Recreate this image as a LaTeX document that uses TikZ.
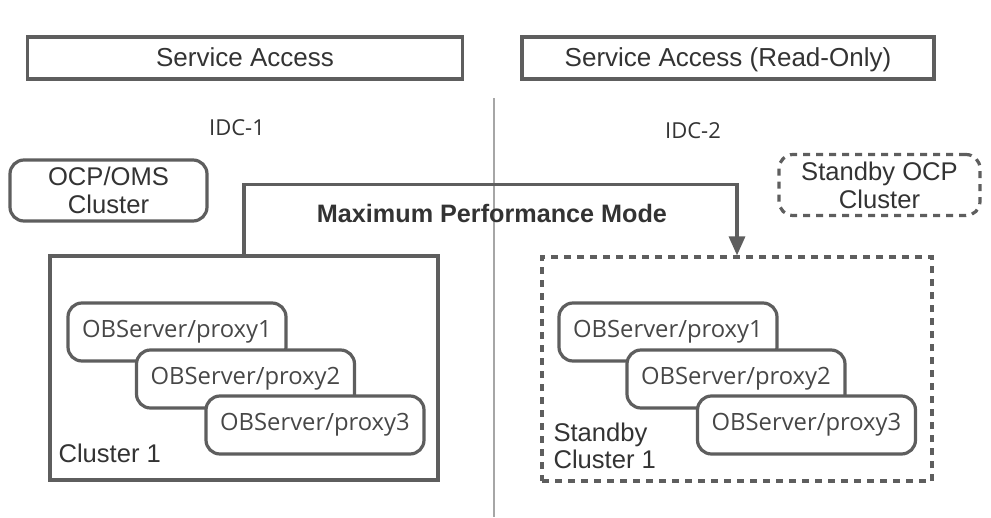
\documentclass[tikz,border=0pt]{standalone}
\usepackage{fontspec}
\setmainfont{Liberation Sans}
\newfontfamily\segoe{Open Sans}
\usetikzlibrary{arrows.meta}
\definecolor{linegray}{HTML}{5E5E5E}
\definecolor{txtgray}{HTML}{333333}
\tikzstyle{access} = [rectangle, minimum width=435pt, minimum height=42pt, text height=20pt, text depth=4pt, text centered, draw=linegray, line width=3.2pt, font=\fontsize{26}{28}\selectfont, text=txtgray]
\tikzstyle{ocp} = [rectangle, rounded corners=14pt, minimum height=61pt, align=center, draw=linegray, line width=3.2pt, font=\fontsize{25.6}{28}\selectfont, text=txtgray]
\tikzstyle{cluster} = [rectangle, minimum width=388pt, minimum height=224pt, draw=linegray, line width=3.2pt]
\tikzstyle{proxy} = [rectangle, rounded corners=14pt, minimum width=218pt, minimum height=58pt, text centered, draw=linegray, line width=3.2pt, fill=white, font=\segoe\fontsize{23.8}{26}\selectfont, text=txtgray!90]
\tikzstyle{dashedline} = [dash pattern=on 7pt off 6pt]
\tikzstyle{arrow} = [line width=3.2pt, draw=linegray, -{Triangle[width=16pt,length=19pt]}]

\begin{document}
\begin{tikzpicture}[x=1pt, y=-1pt]
        \useasboundingbox (0,0) rectangle (991,517);

        % Acessos de serviço no topo
        \node (acc1) [access] at (245,58) {Service Access};
        \node (acc2) [access, minimum width=412pt] at (728,58) {Service Access (Read-Only)};

        % Divisão entre os IDCs
        \coordinate (divtop) at (494,98);
        \coordinate (divbot) at (494,517);
        \draw [gray!70, line width=1.5pt] (divtop) -- (divbot);
        \node (idc1) [font=\segoe\fontsize{22}{24}\selectfont, text=txtgray] at (237,128) {IDC-1};
        \node (idc2) [font=\segoe\fontsize{22}{24}\selectfont, text=txtgray] at (693,131) {IDC-2};

        % Clusters OCP
        \node (ocp1) [ocp, minimum width=197pt] at (108.5,190.5) {OCP/OMS\\Cluster};
        \node (ocp2) [ocp, dashedline, minimum width=201pt] at (879.5,185) {Standby OCP\\Cluster};

        % Cluster principal
        \node (cl1) [cluster] at (244,368) {};
        \node (p11) [proxy] at (177,332) {OBServer/proxy1};
        \node (p12) [proxy] at (245.5,379) {OBServer/proxy2};
        \node (p13) [proxy] at (315,425) {OBServer/proxy3};
        \node (cl1txt) [anchor=west, font=\fontsize{25.6}{28}\selectfont, text=txtgray] at (55,453) {Cluster 1};

        % Cluster standby
        \node (sb1) [cluster, dashedline, minimum width=390pt] at (737,369) {};
        \node (p21) [proxy] at (668,332) {OBServer/proxy1};
        \node (p22) [proxy] at (736,379) {OBServer/proxy2};
        \node (p23) [proxy] at (806.5,425) {OBServer/proxy3};
        \node (sb1txt) [anchor=west, align=left, font=\fontsize{25.6}{27}\selectfont, text=txtgray] at (550,446) {Standby\\Cluster 1};

        % Replicação
        \draw [arrow] (cl1.north) -- ++(0,-70) -| (sb1.north);
        \node (mode) [font=\bfseries\fontsize{25.2}{28}\selectfont, text=txtgray] at (492,213) {Maximum Performance Mode};

    \end{tikzpicture}
\end{document}
